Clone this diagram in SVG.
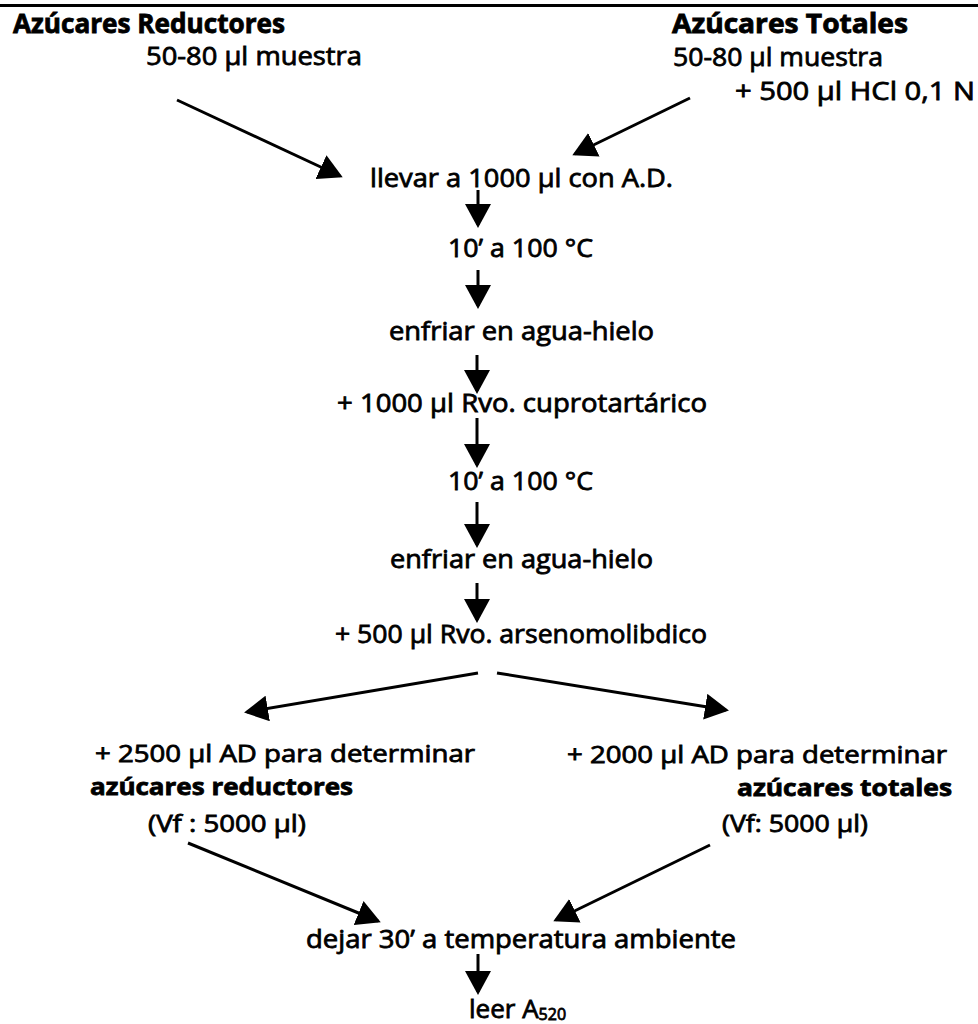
<svg xmlns="http://www.w3.org/2000/svg" width="978" height="1024" viewBox="0 0 978 1024">
<style>
text{font-family:"Open Sans","DejaVu Sans",sans-serif;font-size:26px;fill:#000}
.r{font-weight:400;stroke:#000;stroke-width:0.8}
.b{font-weight:700;stroke:#000;stroke-width:0.8}
.s{font-size:24px}
.c{stroke:#000;stroke-width:3;fill:none;marker-end:url(#ah)}
</style>
<defs>
<marker id="ah" viewBox="0 0 24 26" refX="21" refY="13" markerWidth="24" markerHeight="26" orient="auto" markerUnits="userSpaceOnUse">
<path d="M0,0 L24,13 L0,26 z" fill="#000"/>
</marker>
</defs>
<rect width="978" height="1024" fill="#fff"/>
<line x1="0" y1="5.5" x2="978" y2="5.5" stroke="#000" stroke-width="3"/>

<g id="n_reductores">
<text class="b" x="13" y="33" textLength="272" lengthAdjust="spacingAndGlyphs">Azúcares Reductores</text>
<text class="r" x="146" y="65" textLength="216" lengthAdjust="spacingAndGlyphs">50-80 µl muestra</text>
</g>
<g id="n_totales">
<text class="b" x="672" y="33" textLength="236" lengthAdjust="spacingAndGlyphs">Azúcares  Totales</text>
<text class="r" x="673" y="66" textLength="210" lengthAdjust="spacingAndGlyphs">50-80 µl muestra</text>
<text class="r" x="735" y="100" textLength="240" lengthAdjust="spacingAndGlyphs">+ 500 µl HCl 0,1 N</text>
</g>
<g id="n_llevar"><text class="r" x="370" y="187" textLength="303" lengthAdjust="spacingAndGlyphs">llevar a 1000 µl con A.D.</text></g>
<g id="n_calor1"><text class="r" x="448" y="257" textLength="145" lengthAdjust="spacingAndGlyphs">10’ a 100 °C</text></g>
<g id="n_enfriar1"><text class="r" x="389" y="340" textLength="265" lengthAdjust="spacingAndGlyphs">enfriar en agua-hielo</text></g>
<g id="n_cupro"><text class="r" x="337" y="412" textLength="370" lengthAdjust="spacingAndGlyphs">+ 1000 µl Rvo. cuprotartárico</text></g>
<g id="n_calor2"><text class="r" x="448" y="490" textLength="145" lengthAdjust="spacingAndGlyphs">10’ a 100 °C</text></g>
<g id="n_enfriar2"><text class="r" x="390" y="568" textLength="263" lengthAdjust="spacingAndGlyphs">enfriar en agua-hielo</text></g>
<g id="n_arseno"><text class="r" x="335" y="643" textLength="372" lengthAdjust="spacingAndGlyphs">+ 500 µl Rvo. arsenomolibdico</text></g>
<g id="n_ad_red">
<text class="r s" x="95" y="762" textLength="380" lengthAdjust="spacingAndGlyphs">+ 2500 µl AD para determinar</text>
<text class="b s" x="90" y="795" textLength="263" lengthAdjust="spacingAndGlyphs">azúcares reductores</text>
<text class="r s" x="148" y="832" textLength="158" lengthAdjust="spacingAndGlyphs">(Vf : 5000 µl)</text>
</g>
<g id="n_ad_tot">
<text class="r s" x="567" y="763" textLength="380" lengthAdjust="spacingAndGlyphs">+ 2000 µl AD para determinar</text>
<text class="b s" x="737" y="796" textLength="215" lengthAdjust="spacingAndGlyphs">azúcares totales</text>
<text class="r s" x="722" y="832" textLength="146" lengthAdjust="spacingAndGlyphs">(Vf: 5000 µl)</text>
</g>
<g id="n_dejar"><text class="r" x="306" y="948" textLength="430" lengthAdjust="spacingAndGlyphs">dejar 30’ a temperatura ambiente</text></g>
<g id="n_leer"><text class="r" x="469" y="1018">leer A<tspan font-size="16" dy="2">520</tspan></text></g>

<g id="connectors">
<line class="c" x1="177" y1="100" x2="340" y2="176"/>
<line class="c" x1="690" y1="98" x2="575" y2="154"/>
<line class="c" x1="478" y1="190" x2="478" y2="225"/>
<line class="c" x1="478" y1="270" x2="478" y2="306"/>
<line class="c" x1="477" y1="355" x2="477" y2="391"/>
<line class="c" x1="477" y1="418" x2="477" y2="465"/>
<line class="c" x1="477" y1="502" x2="477" y2="545"/>
<line class="c" x1="477" y1="583" x2="477" y2="620"/>
<line class="c" x1="478" y1="673" x2="247" y2="712"/>
<line class="c" x1="497" y1="673" x2="726" y2="710"/>
<line class="c" x1="188" y1="843" x2="378" y2="921"/>
<line class="c" x1="710" y1="845" x2="556" y2="920"/>
<line class="c" x1="478" y1="954" x2="478" y2="992"/>
</g>
</svg>
